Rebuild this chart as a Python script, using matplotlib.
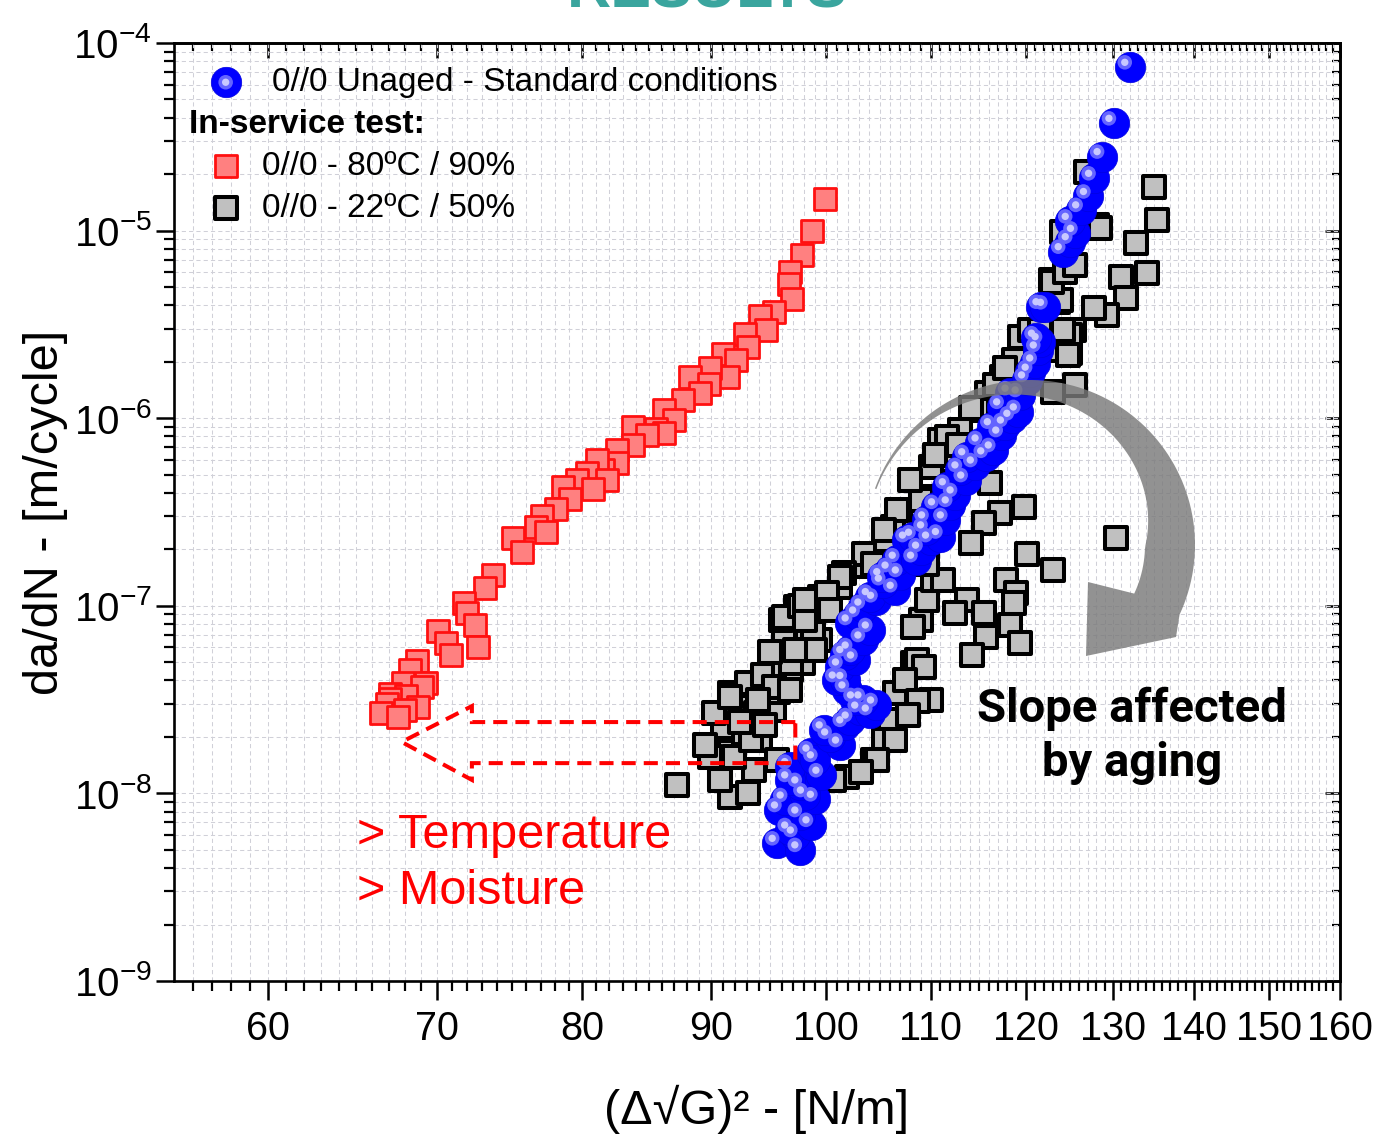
import numpy as np
import matplotlib
matplotlib.use('Agg')
import matplotlib.pyplot as plt
from matplotlib.ticker import FixedLocator, FixedFormatter, NullFormatter, LogLocator
from matplotlib.patches import Polygon
from matplotlib.transforms import offset_copy
from matplotlib.legend_handler import HandlerTuple
from matplotlib.font_manager import FontProperties

# ---------------- data ----------------
x_ticks = [60, 70, 80, 90, 100, 110, 120, 130, 140, 150, 160]
x_tick_labels = ['60', '70', '80', '90', '100', '110', '120', '130', '140', '150', '160']
x_minor_ticks = [v for v in range(55, 161) if v % 10 != 0]
y_ticks = [1e-9, 1e-8, 1e-7, 1e-6, 1e-5, 1e-4]
y_tick_labels = [r'$10^{\mathrm{-}9}$', r'$10^{\mathrm{-}8}$', r'$10^{\mathrm{-}7}$',
                 r'$10^{\mathrm{-}6}$', r'$10^{\mathrm{-}5}$', r'$10^{\mathrm{-}4}$']

label_unaged = '0//0 Unaged - Standard conditions'
label_hot = '0//0 - 80ºC / 90%'
label_room = '0//0 - 22ºC / 50%'
legend_header = 'In-service test:'

# 0//0 - 80ºC / 90%
x_hot = [99.9, 98.7, 97.8, 96.7, 96.6, 96.9, 95.3, 94.1, 94.6, 92.8, 93.1, 91.0, 92.1, 91.4,
         89.9, 88.3, 89.8, 89.1, 87.7, 86.2, 87.0, 85.6, 83.8, 86.2, 84.9, 83.8, 82.6, 82.6,
         81.5, 81.1, 80.3, 81.8, 79.6, 80.8, 78.6, 79.1, 78.1, 77.1, 76.7, 77.4, 75.1, 75.7,
         73.7, 73.2, 71.75, 72.0, 72.5, 72.7, 70.1, 70.6, 70.9, 68.75, 68.3, 69.3, 67.9, 67.1,
         69.1, 68.1, 67.1, 66.9, 68.8, 68.0, 66.5, 67.6]
y_hot = [1.47e-5, 9.9e-6, 7.4e-6, 6.0e-6, 5.2e-6, 4.3e-6, 3.7e-6, 3.5e-6, 2.95e-6, 2.8e-6,
         2.4e-6, 2.2e-6, 2.04e-6, 1.66e-6, 1.85e-6, 1.66e-6, 1.53e-6, 1.36e-6, 1.25e-6, 1.11e-6,
         9.8e-7, 8.8e-7, 9.0e-7, 8.3e-7, 8.1e-7, 7.2e-7, 6.8e-7, 5.75e-7, 5.3e-7, 6.0e-7, 5.1e-7,
         4.7e-7, 4.7e-7, 4.2e-7, 4.3e-7, 3.7e-7, 3.3e-7, 3.0e-7, 2.64e-7, 2.48e-7, 2.29e-7,
         1.94e-7, 1.46e-7, 1.24e-7, 1.03e-7, 9.1e-8, 7.9e-8, 6.05e-8, 7.3e-8, 6.3e-8, 5.5e-8,
         5.1e-8, 4.55e-8, 3.9e-8, 3.86e-8, 3.4e-8, 3.7e-8, 3.3e-8, 3.2e-8, 3.0e-8, 2.9e-8,
         2.8e-8, 2.68e-8, 2.55e-8]

# 0//0 - 22ºC / 50%
x_room = [87.2, 90.1, 91.6, 90.7, 91.6, 93.1, 93.6, 91.0, 92.7, 94.1, 92.1, 93.8, 95.3, 91.6,
          93.0, 94.4, 95.7, 96.2, 96.8, 97.9, 96.2, 95.9, 97.3, 99.1, 98.5, 99.4, 98.2, 101.3,
          99.7, 103.7, 106.0, 104.4, 101.9, 100.7, 105.4, 106.5, 89.9, 91.9, 95.6, 93.3, 90.2,
          95.3, 90.7, 91.6, 111.0, 110.0, 109.0, 107.0, 106.3, 105.4, 103.5, 104.4, 101.6, 99.4,
          99.1, 96.2, 98.8, 96.8, 109.0, 109.6, 108.3, 108.3, 110.3, 132.7, 130.9, 134.1, 131.6,
          129.3, 127.8, 122.8, 123.6, 125.4, 125.0, 125.6, 123.1, 119.4, 118.7, 117.4, 115.8,
          114.8, 113.0, 111.7, 112.3, 116.2, 106.7, 119.8, 117.2, 115.5, 114.1, 120.1, 123.1,
          130.4, 117.9, 119.0, 111.3, 113.7, 109.6, 126.8, 134.9, 135.3, 128.1, 124.05, 125.0,
          112.5, 115.5, 118.7, 118.3, 115.7, 114.3, 119.4, 110.0, 108.6, 109.3, 107.5, 108.7,
          107.8, 106.5, 104.7, 103.2, 114.1, 116.7, 117.8, 120.5, 121.6, 122.5, 124.2, 124.8,
          123.9, 122.9, 124.4, 125.6, 128.5, 109.0, 105.4, 101.3, 100.05, 108.0, 110.5, 112.8,
          97.6, 98.1, 99.0, 100.3, 89.5, 92.4, 94.5, 93.9, 96.7, 95.0, 97.2, 98.1]
y_room = [1.11e-8, 1.64e-8, 1.67e-8, 1.23e-8, 9.6e-9, 1.0e-8, 1.33e-8, 2.27e-8, 2.09e-8, 1.93e-8,
          2.9e-8, 2.67e-8, 2.78e-8, 3.42e-8, 3.86e-8, 4.28e-8, 3.48e-8, 4.37e-8, 4.55e-8, 4.94e-8,
          6.57e-8, 8.4e-8, 9.9e-8, 9.9e-8, 7.74e-8, 6.57e-8, 6.6e-8, 1.26e-7, 1.12e-7, 1.62e-7,
          2.46e-8, 1.51e-8, 1.23e-8, 1.18e-8, 1.93e-8, 3.42e-8, 1.57e-8, 1.57e-8, 1.51e-8, 1.93e-8,
          2.67e-8, 3.7e-8, 1.18e-8, 3.28e-8, 7.65e-7, 5.51e-7, 3.82e-7, 2.99e-7, 2.64e-7, 2.24e-7,
          1.9e-7, 1.68e-7, 1.49e-7, 1.12e-7, 9.5e-8, 8.75e-8, 7.14e-8, 4.94e-8, 8.4e-8, 1.07e-7,
          7.74e-8, 4.94e-8, 1.37e-7, 8.56e-6, 5.68e-6, 5.92e-6, 4.36e-6, 3.55e-6, 3.85e-6, 5.45e-6,
          4.18e-6, 2.95e-6, 2.22e-6, 1.5e-6, 1.38e-6, 2.72e-6, 2.04e-6, 1.66e-6, 1.36e-6, 1.11e-6,
          8.65e-7, 7.97e-7, 5.99e-7, 4.5e-7, 3.24e-7, 3.37e-7, 3.11e-7, 2.75e-7, 2.15e-7, 1.9e-7,
          1.55e-7, 2.29e-7, 1.37e-7, 1.17e-7, 1.37e-7, 1.07e-7, 1.68e-7, 2.06e-5, 1.71e-5, 1.14e-5,
          1.07e-5, 9.86e-6, 2.78e-6, 9.12e-8, 9.12e-8, 1.03e-7, 7.9e-8, 6.84e-8, 5.47e-8, 6.31e-8,
          3.15e-8, 5.14e-8, 4.7e-8, 4.02e-8, 3.1e-8, 2.62e-8, 1.93e-8, 1.5e-8, 1.3e-8, 1.13e-6,
          1.5e-6, 1.85e-6, 2.95e-6, 2.95e-6, 2.31e-6, 2.95e-6, 2.17e-6, 4.27e-6, 5.32e-6, 6.01e-6,
          6.56e-6, 1.03e-5, 3.66e-7, 2.54e-7, 1.43e-7, 1.17e-7, 4.68e-7, 6.37e-7, 7.2e-7,
          1.0e-7, 8.4e-8, 5.81e-8, 9.5e-8, 1.81e-8, 2.4e-8, 2.32e-8, 3.15e-8, 3.56e-8, 5.67e-8,
          5.81e-8, 1.07e-7]

# 0//0 Unaged - Standard conditions
x_unaged = [95.6, 97.6, 97.2, 96.7, 98.6, 97.6, 95.8, 96.3, 99.0, 98.1, 97.6, 96.7, 99.5, 96.7,
            98.6, 99.0, 101.3, 100.3, 99.8, 101.7, 102.2, 103.1, 104.1, 104.6, 103.4, 102.7,
            101.9, 101.0, 101.7, 101.3, 102.7, 101.7, 102.2, 103.4, 104.1, 102.2, 102.9, 103.4,
            104.6, 104.1, 106.5, 105.35, 105.2, 106.0, 107.0, 106.7, 108.5, 107.7, 108.3, 109.0,
            110.0, 111.0, 109.6, 109.5, 110.6, 111.5, 112.0, 112.5, 111.7, 113.6, 113.0, 114.6,
            113.7, 115.7, 115.1, 116.5, 117.3, 116.4, 117.8, 118.5, 117.4, 119.2, 118.3, 119.4,
            120.1, 120.5, 121.0, 121.4, 121.6, 121.2, 121.7, 122.2, 124.2, 125.0, 125.6, 125.0,
            126.2, 127.1, 127.7, 128.7, 130.1, 132.0]
y_unaged = [5.42e-9, 5.0e-9, 6.0e-9, 6.38e-9, 6.8e-9, 7.67e-9, 8.16e-9, 9.22e-9, 9.3e-9, 9.8e-9,
            1.11e-8, 1.18e-8, 1.25e-8, 1.39e-8, 1.64e-8, 1.51e-8, 1.81e-8, 2.0e-8, 2.18e-8, 2.32e-8,
            2.46e-8, 2.78e-8, 2.68e-8, 2.96e-8, 3.15e-8, 3.15e-8, 3.56e-8, 4.02e-8, 4.0e-8, 4.72e-8,
            5.14e-8, 5.5e-8, 5.81e-8, 6.57e-8, 7.43e-8, 8.1e-8, 8.93e-8, 9.85e-8, 1.07e-7, 1.12e-7,
            1.21e-7, 1.32e-7, 1.43e-7, 1.55e-7, 1.46e-7, 1.75e-7, 1.75e-7, 2.24e-7, 2.32e-7, 1.98e-7,
            2.24e-7, 2.34e-7, 2.87e-7, 2.54e-7, 3.37e-7, 2.87e-7, 3.45e-7, 3.9e-7, 4.31e-7, 4.68e-7,
            5.3e-7, 5.63e-7, 6.23e-7, 6.3e-7, 7.38e-7, 6.77e-7, 8.13e-7, 9.01e-7, 9.2e-7, 9.99e-7,
            1.15e-6, 1.08e-6, 1.36e-6, 1.33e-6, 1.6e-6, 1.76e-6, 1.97e-6, 2.31e-6, 2.56e-6, 2.67e-6,
            3.93e-6, 3.9e-6, 7.72e-6, 8.73e-6, 9.67e-6, 1.12e-5, 1.29e-5, 1.52e-5, 1.9e-5, 2.48e-5,
            3.73e-5, 7.42e-5]

# red dashed annotation arrow (data units)
arrow_x = [97.2, 72.3, 72.3, 67.8, 72.3, 72.3, 97.2]
arrow_y = [2.4e-8, 2.4e-8, 2.92e-8, 1.88e-8, 1.18e-8, 1.45e-8, 1.45e-8]

# ---------------- figure ----------------
W, H = 1378, 1141
SANS = ['Liberation Sans', 'DejaVu Sans']
plt.rcParams['font.family'] = SANS
plt.rcParams['mathtext.fontset'] = 'custom'
plt.rcParams['mathtext.rm'] = 'Liberation Sans'
plt.rcParams['mathtext.it'] = 'Liberation Sans:italic'
plt.rcParams['mathtext.bf'] = 'Liberation Sans:bold'

fig = plt.figure(figsize=(W / 100, H / 100), dpi=100, facecolor='white')
L, R_, T, B = 174, 1340, 43, 981
ax = fig.add_axes([L / W, 1 - B / H, (R_ - L) / W, (B - T) / H])
ax.set_xscale('log')
ax.set_yscale('log')
ax.set_xlim(55.05, 160)
ax.set_ylim(1e-9, 1e-4)

ax.xaxis.set_major_locator(FixedLocator(x_ticks))
ax.xaxis.set_major_formatter(FixedFormatter(x_tick_labels))
ax.xaxis.set_minor_locator(FixedLocator(x_minor_ticks))
ax.xaxis.set_minor_formatter(NullFormatter())
ax.yaxis.set_major_locator(FixedLocator(y_ticks))
ax.yaxis.set_major_formatter(FixedFormatter(y_tick_labels))
ax.yaxis.set_minor_locator(LogLocator(base=10, subs=range(2, 10), numticks=50))
ax.yaxis.set_minor_formatter(NullFormatter())

ax.tick_params(axis='x', which='major', direction='out', length=14, width=1.8,
               labelsize=28.5, pad=7, top=False)
ax.tick_params(axis='x', which='minor', direction='out', length=7, width=1.6, top=False)
ax.tick_params(axis='y', which='major', direction='out', length=13, width=1.8,
               labelsize=29, pad=3, right=False)
ax.tick_params(axis='y', which='minor', direction='out', length=7, width=1.6, right=False)
for s in ax.spines.values():
    s.set_linewidth(1.9)

secx = ax.secondary_xaxis('top')
secx.xaxis.set_major_locator(FixedLocator(x_ticks))
secx.xaxis.set_minor_locator(FixedLocator(x_minor_ticks))
secx.xaxis.set_major_formatter(NullFormatter())
secx.xaxis.set_minor_formatter(NullFormatter())
secx.tick_params(axis='x', which='major', direction='in', length=11, width=1.8)
secx.tick_params(axis='x', which='minor', direction='in', length=6, width=1.6)
secx.spines['top'].set_linewidth(1.9)

secy = ax.secondary_yaxis('right')
secy.yaxis.set_major_locator(FixedLocator(y_ticks))
secy.yaxis.set_minor_locator(LogLocator(base=10, subs=range(2, 10), numticks=50))
secy.yaxis.set_major_formatter(NullFormatter())
secy.yaxis.set_minor_formatter(NullFormatter())
secy.tick_params(axis='y', which='major', direction='in', length=11, width=1.8)
secy.tick_params(axis='y', which='minor', direction='in', length=6, width=1.6)
secy.spines['right'].set_linewidth(1.9)

ax.grid(True, which='both', axis='both', linestyle=(0, (4, 3)), color='#d0d0d8', linewidth=0.75)
ax.set_axisbelow(True)

# ---------------- series ----------------
h_room = ax.scatter(x_room, y_room, s=265, marker='s', facecolor='#c0c0c0',
                    edgecolor='black', linewidths=2.9, zorder=3)
h_hot = ax.scatter(x_hot, y_hot, s=265, marker='s', facecolor='#ff8080',
                   edgecolor='#ff1010', linewidths=2.0, zorder=3)
h_un = ax.scatter(x_unaged, y_unaged, s=480, marker='o', facecolor='#0000ff',
                  edgecolor='#0000e0', linewidths=0.5, zorder=4)
glow = offset_copy(ax.transData, fig=fig, x=-5, y=5, units='dots')
h_un2 = ax.scatter(x_unaged, y_unaged, s=110, marker='o', facecolor='#6464ff',
                   edgecolor='none', transform=glow, zorder=5)
h_un3 = ax.scatter(x_unaged, y_unaged, s=28, marker='o', facecolor='#c8c8ff',
                   edgecolor='none', transform=glow, zorder=6)

# red dashed block arrow
ax.add_patch(Polygon(np.column_stack([arrow_x, arrow_y]), closed=True, fill=False,
                     edgecolor='#ff0000', linewidth=2.9, linestyle=(0, (3.5, 2)), zorder=7))

# grey curved arrow (figure pixel geometry)
def fpt(px, py):
    return (px / W, 1 - py / H)

Cx, Cy, Rad = 1030, 545, 165
th = np.linspace(160, -25, 90)
thick = np.minimum(1.5 + 48 * ((160 - th) / 160) ** 1.5, 50)
outer = [fpt(Cx + Rad * np.cos(np.radians(a)), Cy - Rad * np.sin(np.radians(a))) for a in th]
inner = [fpt(Cx + (Rad - t) * np.cos(np.radians(a)), Cy - (Rad - t) * np.sin(np.radians(a)))
         for a, t in zip(th, thick)]
head = [fpt(1176, 637), fpt(1086, 656), fpt(1088, 582)]
verts = outer + head + inner[::-1]
fig.patches.append(Polygon(verts, closed=True, transform=fig.transFigure,
                           facecolor='#7a7a7a', edgecolor='none', alpha=0.82, zorder=8))

# ---------------- legend ----------------
leg_font = FontProperties(family=SANS, size=24)
leg_bold = FontProperties(family=SANS, size=24, weight='bold')
leg1 = ax.legend(handles=[(h_un, h_un2, h_un3)], labels=[label_unaged],
                 handler_map={tuple: HandlerTuple(ndivide=1)},
                 loc='upper left', bbox_to_anchor=((189 - L) / (R_ - L), (B - 67) / (B - T)),
                 frameon=False, prop=leg_font, handlelength=2.2, handletextpad=0.3,
                 borderaxespad=0, borderpad=0)
ax.add_artist(leg1)
leg2 = ax.legend(handles=[h_hot, h_room], labels=[label_hot, label_room],
                 title=legend_header, title_fontproperties=leg_bold, alignment='left',
                 loc='upper left', bbox_to_anchor=((189 - L) / (R_ - L), (B - 109) / (B - T)),
                 frameon=False, prop=leg_font, handlelength=2.2, handletextpad=0.0,
                 labelspacing=0.33, borderaxespad=0, borderpad=0)
leg2.set_zorder(10)

# ---------------- texts ----------------
ax.text((357 - L) / (R_ - L), (B - 835) / (B - T), '> Temperature', color='#ff0000',
        fontsize=35, family=SANS, va='center', ha='left',
        transform=ax.transAxes, zorder=9)
ax.text((357 - L) / (R_ - L), (B - 892) / (B - T), '> Moisture', color='#ff0000',
        fontsize=35, family=SANS, va='center', ha='left',
        transform=ax.transAxes, zorder=9)
ax.text((1132 - L) / (R_ - L), (B - 736) / (B - T), 'Slope affected\nby aging', color='black',
        fontsize=34, family=['Roboto', 'DejaVu Sans'], weight='bold', va='center', ha='center',
        linespacing=1.3, transform=ax.transAxes, zorder=9)

ax.set_xlabel('(Δ√G)² - [N/m]', fontsize=35, family=SANS)
ax.set_ylabel('da/dN - [m/cycle]', fontsize=35, family=SANS)
ax.xaxis.set_label_coords(0.5, (B - 1085) / (B - T))
ax.yaxis.set_label_coords((68 - L) / (R_ - L), 0.5)

fig.text(707 / W, 1 - 8 / H, 'RESULTS', color='#3aa59e', fontsize=44, weight='bold',
         family=SANS, ha='center', va='baseline')

fig.savefig('out.png', dpi=100, facecolor='white')
